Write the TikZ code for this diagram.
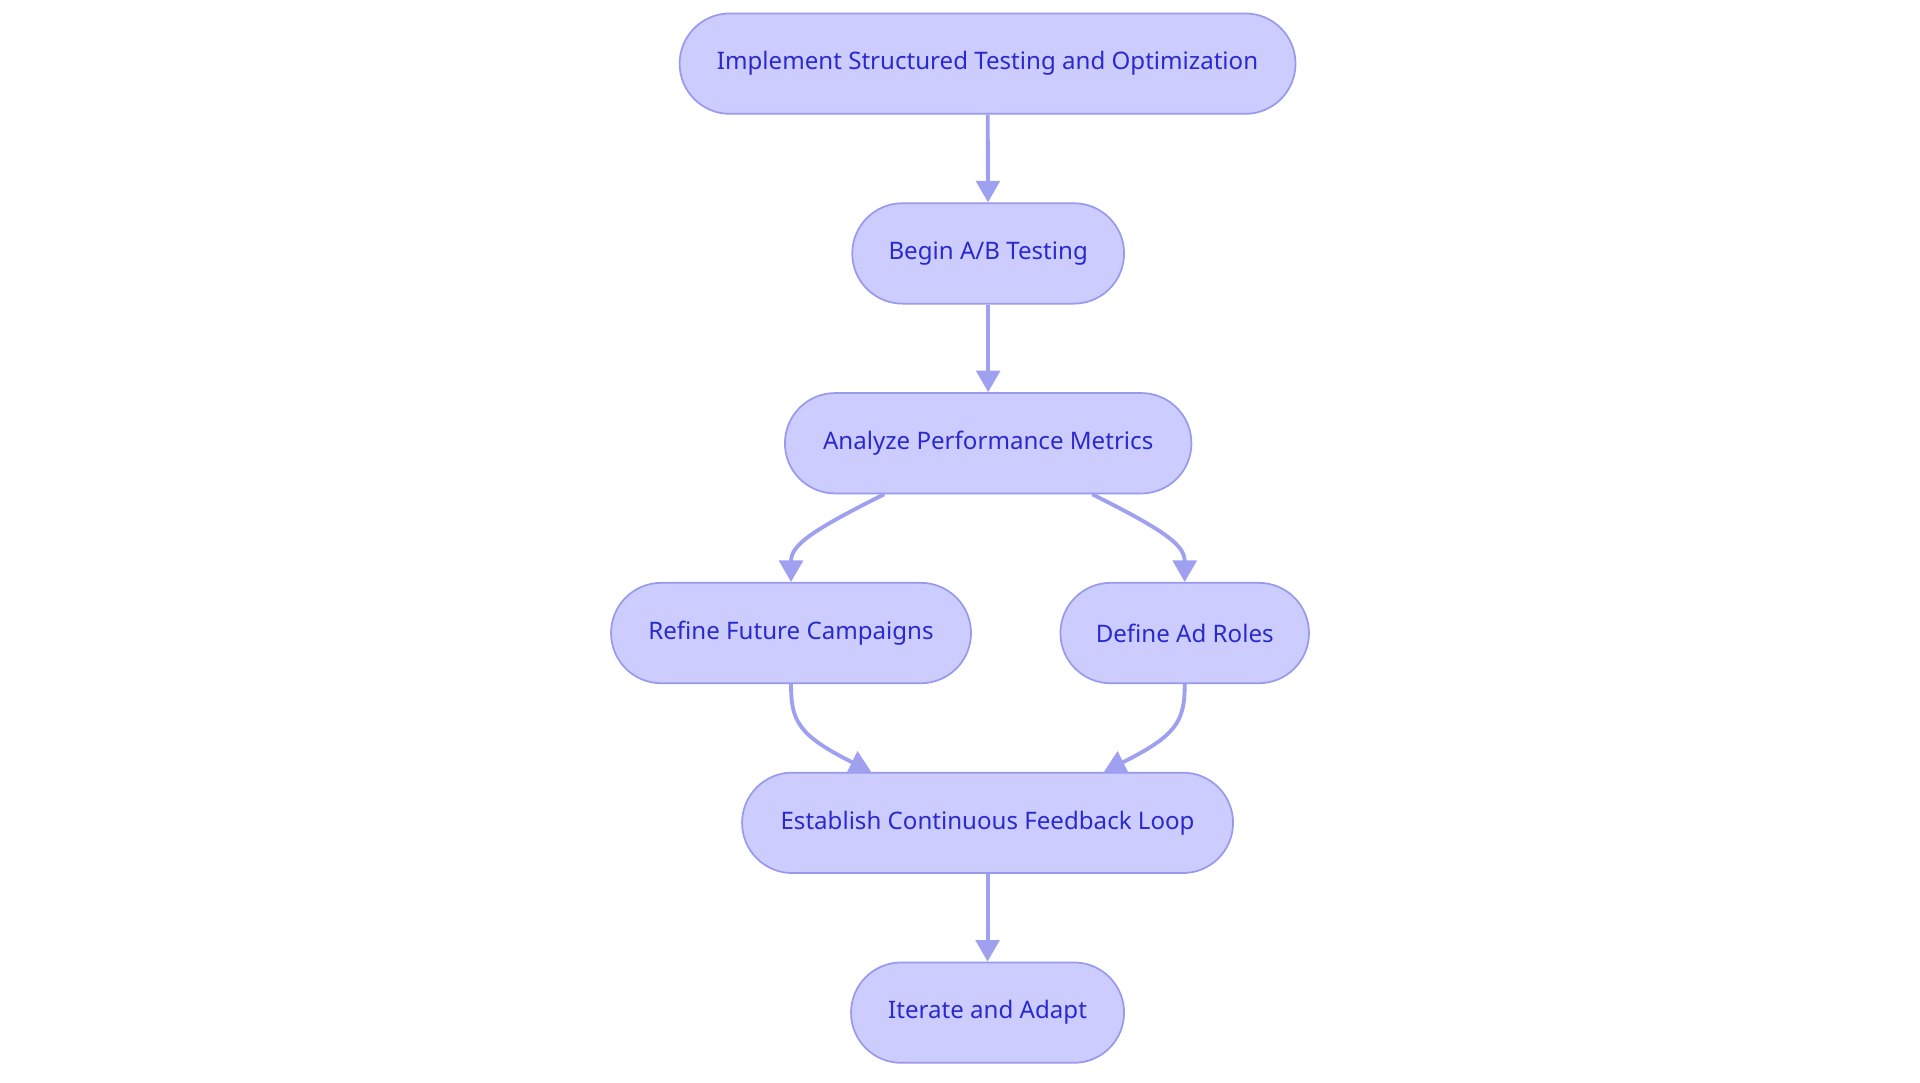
\documentclass[tikz,border=0pt]{standalone}
\usepackage{fontspec}
\setmainfont{Noto Sans}
\usetikzlibrary{arrows.meta}
\definecolor{boxfill}{HTML}{CCCCFF}
\definecolor{boxline}{HTML}{9999EE}
\definecolor{boxtext}{HTML}{2A2ACC}
\definecolor{arrowcol}{HTML}{A0A0F0}
\tikzset{
	stage/.style={draw=boxline, fill=boxfill, text=boxtext, rounded corners=0.41cm,
		minimum height=0.82cm, inner xsep=0pt, font=\fontsize{5.6}{7}\selectfont},
	flow/.style={draw=arrowcol, line width=0.9pt, -{Triangle[length=5pt,width=5.5pt]}}
}
\begin{document}
\begin{tikzpicture}
	\useasboundingbox (0,0) rectangle (15.68,8.84);

	\node[stage, minimum width=5.03cm] (impl) at (8.065,8.32) {Implement Structured Testing and Optimization};
	\node[stage, minimum width=2.22cm] (ab) at (8.07,6.77) {Begin A/B Testing};
	\node[stage, minimum width=3.32cm] (analyze) at (8.07,5.22) {Analyze Performance Metrics};
	\node[stage, minimum width=2.94cm] (refine) at (6.46,3.67) {Refine Future Campaigns};
	\node[stage, minimum width=2.03cm] (roles) at (9.675,3.67) {Define Ad Roles};
	\node[stage, minimum width=4.01cm] (loop) at (8.065,2.12) {Establish Continuous Feedback Loop};
	\node[stage, minimum width=2.23cm] (iter) at (8.065,0.57) {Iterate and Adapt};

	\draw[flow] (impl) -- (ab);
	\draw[flow] (ab) -- (analyze);
	\draw[flow] ([xshift=-0.85cm]analyze.south) .. controls +(-0.6,-0.3) and +(0,0.3) .. (refine.north);
	\draw[flow] ([xshift=0.85cm]analyze.south) .. controls +(0.6,-0.3) and +(0,0.3) .. (roles.north);
	\draw[flow] (refine.south) .. controls +(0,-0.3) and +(-0.6,0.3) .. ([xshift=-0.95cm]loop.north);
	\draw[flow] (roles.south) .. controls +(0,-0.3) and +(0.6,0.3) .. ([xshift=0.95cm]loop.north);
	\draw[flow] (loop) -- (iter);
\end{tikzpicture}
\end{document}
